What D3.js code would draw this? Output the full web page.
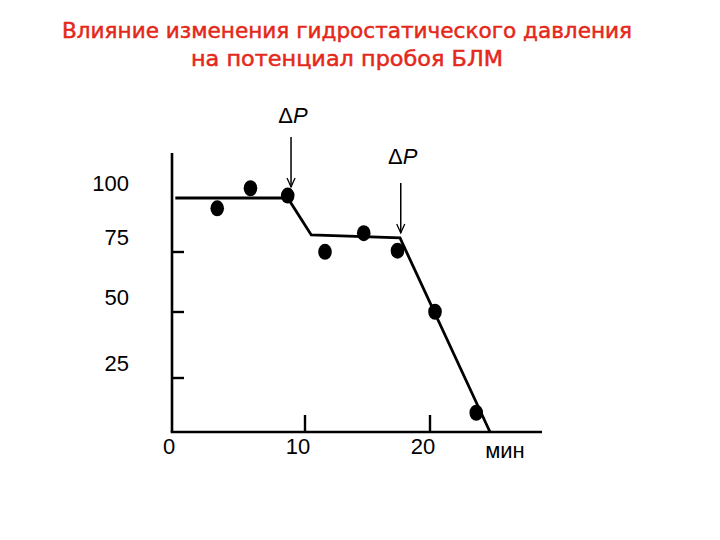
<!DOCTYPE html>
<html><head><meta charset="utf-8">
<script src="https://cdn.jsdelivr.net/npm/d3@7"></script>
<style>body{margin:0;background:#fff}svg{display:block}</style>
</head><body><svg id="c" width="720" height="540"></svg>
<script>
const titleLines = ["Влияние изменения гидростатического давления", "на потенциал пробоя БЛМ"];
const yTicks = [25, 50, 75];
const yLabels = [100, 75, 50, 25];
const xTicks = [10, 20];
const xLabels = [0, 10, 20];
const xUnit = "мин";
// measured points (time, min; potential, %)
const pointsT = [3.4, 5.9, 8.7, 11.6, 14.7, 17.4, 20.4, 23.7];
const pointsV = [95.2, 104.5, 101.1, 75.1, 83.7, 75.6, 50.1, 8.9];
// fitted line
const lineT = [0.25, 8.7, 10.5, 17.6, 24.8];
const lineV = [100, 100, 82.9, 81.5, 0];
// pressure change arrows
const arrowT = [8.95, 17.66];
const arrowTop = [128.2, 106.9];
const arrowTip = [105.1, 83.8];
const arrowLabelV = [138.5, 119.5];

const svg = d3.select("#c");
const x = d3.scaleLinear().domain([0, 10, 20]).range([172, 305, 430]);
const y = d3.scaleLinear().domain([0, 25, 50, 75, 100]).range([432, 378, 312, 252, 198]);

// title
svg.selectAll("text.title").data(titleLines).join("text")
  .attr("x", 347).attr("y", (d, i) => 38 + i * 28)
  .attr("text-anchor", "middle")
  .attr("font-family", "DejaVu Sans, sans-serif")
  .attr("font-size", 21)
  .attr("fill", "#e4281a")
  .attr("stroke", "#e4281a").attr("stroke-width", 0.5)
  .attr("textLength", (d, i) => i === 0 ? 570 : 312)
  .attr("lengthAdjust", "spacingAndGlyphs")
  .text(d => d);

const ink = "#000";
// axes
svg.append("line").attr("x1", x(0)).attr("x2", x(0)).attr("y1", 153).attr("y2", y(0))
  .attr("stroke", ink).attr("stroke-width", 2.6);
svg.append("line").attr("x1", x(0) - 1.3).attr("x2", 542).attr("y1", y(0)).attr("y2", y(0))
  .attr("stroke", ink).attr("stroke-width", 2.6);
svg.selectAll("line.yt").data(yTicks).join("line")
  .attr("x1", x(0)).attr("x2", x(0) + 12).attr("y1", d => y(d)).attr("y2", d => y(d))
  .attr("stroke", ink).attr("stroke-width", 2.4);
svg.selectAll("line.xt").data(xTicks).join("line")
  .attr("x1", d => x(d)).attr("x2", d => x(d)).attr("y1", y(0)).attr("y2", y(0) - 17)
  .attr("stroke", ink).attr("stroke-width", 2.4);

const lab = "Liberation Sans, Arial, sans-serif";
svg.selectAll("text.yl").data(yLabels).join("text")
  .attr("x", 129).attr("y", d => y(d) - 14.5)
  .attr("dy", "0.36em").attr("text-anchor", "end")
  .attr("font-family", lab).attr("font-size", 22).attr("fill", ink)
  .text(d => d);
svg.selectAll("text.xl").data(xLabels).join("text")
  .attr("x", d => x(d) - (d === 0 ? 3 : 7)).attr("y", 446)
  .attr("dy", "0.36em").attr("text-anchor", "middle")
  .attr("font-family", lab).attr("font-size", 22).attr("fill", ink)
  .text(d => d);
svg.append("text").attr("x", 505).attr("y", 450).attr("dy", "0.36em")
  .attr("text-anchor", "middle").attr("font-family", lab).attr("font-size", 22)
  .attr("fill", ink).text(xUnit);

// fitted line
const lineData = lineT.map((t, i) => [t, lineV[i]]);
svg.append("path").datum(lineData)
  .attr("d", d3.line().x(d => x(d[0])).y(d => y(d[1])))
  .attr("fill", "none").attr("stroke", ink).attr("stroke-width", 2.8)
  .attr("stroke-linejoin", "miter");

// points
svg.selectAll("ellipse.pt").data(pointsT.map((t, i) => [t, pointsV[i]])).join("ellipse")
  .attr("cx", d => x(d[0])).attr("cy", d => y(d[1]))
  .attr("rx", 6.8).attr("ry", 8).attr("fill", ink);

// arrows
arrowT.forEach((t, i) => {
  const ax = x(t), y0 = y(arrowTop[i]), y1 = y(arrowTip[i]);
  svg.append("line").attr("x1", ax).attr("x2", ax).attr("y1", y0).attr("y2", y1)
    .attr("stroke", ink).attr("stroke-width", 1.5);
  svg.append("path").attr("d", `M${ax - 4},${y1 - 9}L${ax},${y1}L${ax + 4},${y1 - 9}`)
    .attr("fill", "none").attr("stroke", ink).attr("stroke-width", 1.3);
  const tx = svg.append("text").attr("x", ax + 2).attr("y", y(arrowLabelV[i]))
    .attr("dy", "0.36em").attr("text-anchor", "middle")
    .attr("font-family", lab).attr("font-size", 22).attr("fill", ink);
  tx.append("tspan").attr("font-weight", 300).text("Δ");
  tx.append("tspan").attr("font-style", "italic").text("P");
});
</script></body></html>
